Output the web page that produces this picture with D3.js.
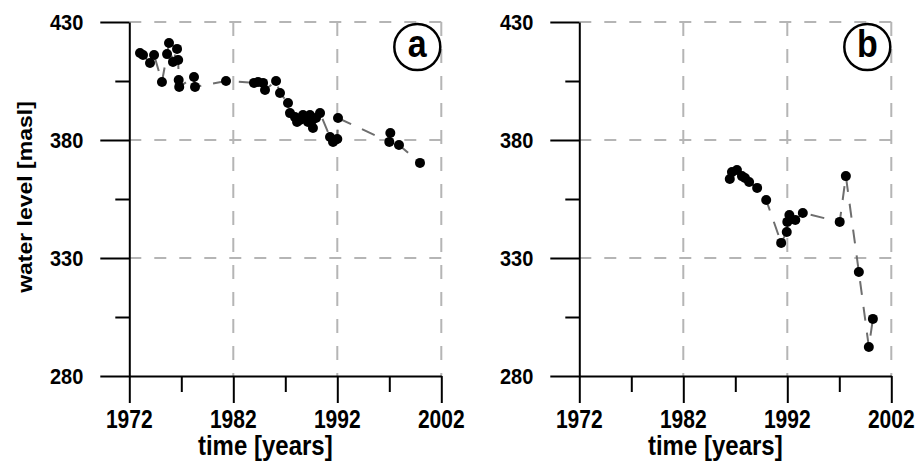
<!DOCTYPE html>
<html>
<head>
<meta charset="utf-8">
<script src="https://cdn.jsdelivr.net/npm/d3@7"></script>
<style>
  html, body { margin: 0; padding: 0; background: #fff; }
  svg { display: block; font-family: "Liberation Sans", Arial, sans-serif; }
</style>
</head>
<body>
<svg width="919" height="467"></svg>
<script>
// panel a: time (decimal years) and water level (masl)
const yearsA = [1973.03, 1973.32, 1973.99, 1974.38, 1975.14, 1975.63, 1975.82, 1976.2, 1976.59,
  1976.7, 1976.75, 1976.8, 1978.22, 1978.32, 1981.3, 1983.99, 1984.38, 1984.86, 1985.05,
  1986.11, 1986.49, 1987.26, 1987.45, 1987.93, 1988.13, 1988.41, 1988.7, 1989.0, 1989.18,
  1989.37, 1989.6, 1989.66, 1989.95, 1990.34, 1991.3, 1991.59, 1991.78, 1992.0, 1992.07,
  1997.0, 1997.1, 1997.93, 1999.95];
const levelsA = [416.9, 416.0, 412.6, 416.0, 404.6, 416.4, 421.1, 413.1, 418.6,
  413.9, 405.4, 402.5, 406.7, 402.5, 405.0, 404.2, 404.6, 404.2, 401.2,
  405.0, 399.9, 395.7, 391.4, 389.7, 387.6, 388.5, 390.6, 389.7, 387.6,
  390.6, 388.5, 385.1, 389.3, 391.4, 381.3, 379.2, 380.0, 380.4, 389.3,
  379.2, 383.0, 377.9, 370.3];

// panel b
const yearsB = [1986.47, 1986.68, 1987.16, 1987.64, 1987.93, 1988.33, 1989.1, 1989.97,
  1991.41, 1991.95, 1992.0, 1992.2, 1992.77, 1993.49, 1997.04, 1997.63, 1998.88, 1999.84, 2000.23];
const levelsB = [363.5, 366.4, 367.3, 364.7, 363.9, 362.2, 359.7, 354.6,
  336.4, 341.0, 345.3, 348.2, 346.1, 349.1, 345.3, 364.7, 324.1, 292.3, 304.2];

const xTicks = [1972, 1982, 1992, 2002];
const xMinor = [1977, 1987, 1997];
const yTicks = [280, 330, 380, 430];
const yMinor = [305, 355, 405];
const xGrid = [1982, 1992, 2002];
const yGrid = [330, 380, 430];

const svg = d3.select("svg");
const plotTop = 22, plotBottom = 376, panelW = 312;

const y = d3.scaleLinear().domain([280, 430]).range([plotBottom, plotTop]);

// y title (shared, left side)
svg.append("text")
  .attr("transform", "translate(32,197) rotate(-90) scale(1.15,1)")
  .attr("text-anchor", "middle")
  .attr("font-size", 20)
  .attr("font-weight", "bold")
  .text("water level [masl]");

function drawPanel(left, years, levels, letter) {
  const x = d3.scaleLinear().domain([1972, 2002]).range([left, left + panelW]);
  const g = svg.append("g");

  // dashed grid
  g.selectAll(".hg").data(yGrid).join("line")
    .attr("x1", left).attr("x2", left + panelW)
    .attr("y1", d => y(d)).attr("y2", d => y(d))
    .attr("stroke", "#b5b5b5").attr("stroke-width", 2)
    .attr("stroke-dasharray", "12,13");
  g.selectAll(".vg").data(xGrid).join("line")
    .attr("x1", d => x(d)).attr("x2", d => x(d))
    .attr("y1", plotTop).attr("y2", plotBottom)
    .attr("stroke", "#b5b5b5").attr("stroke-width", 2)
    .attr("stroke-dasharray", "14,13");

  // axes
  g.append("g").attr("transform", `translate(0,${plotBottom})`)
    .call(d3.axisBottom(x).tickValues(xTicks).tickSize(27).tickSizeOuter(0).tickFormat(""));
  g.append("g").attr("transform", `translate(0,${plotBottom})`)
    .call(d3.axisBottom(x).tickValues(xMinor).tickSize(16).tickSizeOuter(0).tickFormat(""))
    .select(".domain").remove();
  g.append("g").attr("transform", `translate(${left},0)`)
    .call(d3.axisLeft(y).tickValues(yTicks).tickSize(29).tickSizeOuter(0).tickFormat(""));
  g.append("g").attr("transform", `translate(${left},0)`)
    .call(d3.axisLeft(y).tickValues(yMinor).tickSize(14).tickSizeOuter(0).tickFormat(""))
    .select(".domain").remove();
  g.selectAll(".domain, .tick line").attr("stroke", "#000").attr("stroke-width", 2);

  // tick labels
  g.selectAll(".xl").data(xTicks).join("text")
    .attr("transform", d => `translate(${x(d)},428) scale(1,1.2)`)
    .attr("text-anchor", "middle")
    .attr("font-size", 21).attr("font-weight", "bold")
    .text(d => d);
  g.selectAll(".yl").data(yTicks).join("text")
    .attr("transform", d => `translate(${left - 46},${y(d) + 8}) scale(1,1.1)`)
    .attr("text-anchor", "end")
    .attr("font-size", 20).attr("font-weight", "bold")
    .text(d => d);

  // x title
  g.append("text")
    .attr("transform", `translate(${left + 136},455) scale(1,1.12)`)
    .attr("text-anchor", "middle")
    .attr("font-size", 24).attr("font-weight", "bold")
    .text("time [years]");

  // series
  const pts = years.map((t, i) => [t, levels[i]]);
  g.append("path")
    .datum(pts)
    .attr("fill", "none")
    .attr("stroke", "#6e6e6e").attr("stroke-width", 2)
    .attr("stroke-dasharray", "14,12")
    .attr("d", d3.line().x(d => x(d[0])).y(d => y(d[1])));
  g.selectAll(".pt").data(pts).join("circle")
    .attr("cx", d => x(d[0])).attr("cy", d => y(d[1]))
    .attr("r", 5).attr("fill", "#000");

  // panel letter
  const cx = left + 288, cy = 47;
  g.append("circle").attr("cx", cx).attr("cy", cy).attr("r", 23)
    .attr("fill", "#fff").attr("stroke", "#000").attr("stroke-width", 2.5);
  g.append("text")
    .attr("transform", `translate(${cx},57) scale(1,1.15)`)
    .attr("text-anchor", "middle")
    .attr("font-size", 34).attr("font-weight", "bold")
    .text(letter);
}

drawPanel(129.3, yearsA, levelsA, "a");
drawPanel(579.3, yearsB, levelsB, "b");
</script>
</body>
</html>
